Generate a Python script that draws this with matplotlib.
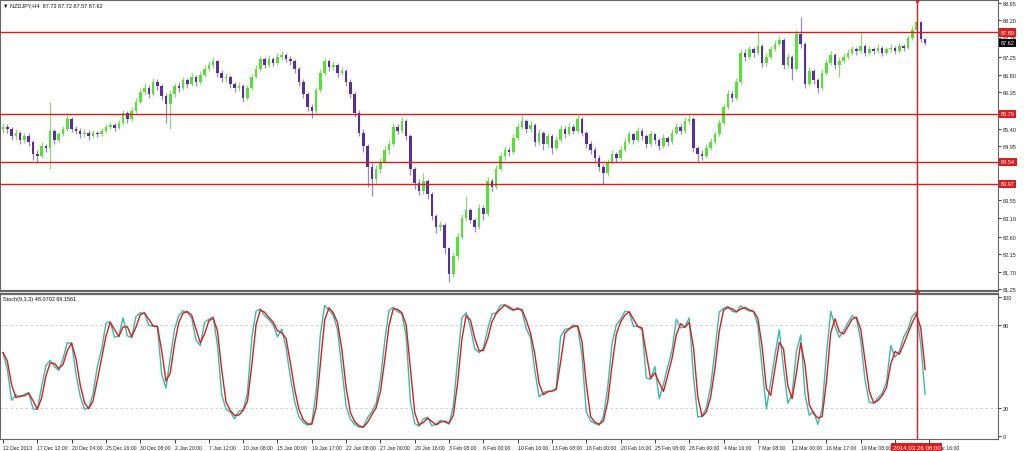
import numpy as np
import pandas as pd
import matplotlib
matplotlib.use("Agg")
import matplotlib.pyplot as plt
from matplotlib.transforms import blended_transform_factory

plt.rcParams["font.family"] = ["Liberation Sans", "DejaVu Sans"]

# NZDJPY candles (one entry per drawn bar)
first_open = 85.40
closes = [
    85.45, 85.38, 85.20, 85.28, 85.10, 85.22, 85.05, 84.75, 84.70, 84.95,
    84.90, 85.35, 85.10, 85.25, 85.40, 85.65, 85.40, 85.35, 85.25, 85.30,
    85.20, 85.30, 85.25, 85.35, 85.45, 85.50, 85.42, 85.55, 85.80, 85.65,
    85.85, 86.10, 86.35, 86.45, 86.30, 86.60, 86.50, 86.25, 86.05, 86.30,
    86.50, 86.45, 86.65, 86.55, 86.75, 86.60, 86.80, 86.95, 87.05, 87.15,
    86.85, 86.70, 86.75, 86.55, 86.45, 86.50, 86.20, 86.45, 86.75, 86.95,
    87.20, 87.05, 87.20, 87.10, 87.25, 87.30, 87.20, 87.15, 86.95, 86.60,
    86.30, 85.95, 85.85, 86.40, 86.85, 87.15, 87.00, 87.05, 86.85, 86.90,
    86.60, 86.30, 85.80, 85.30, 84.95, 84.40, 84.10, 84.35, 84.55, 84.85,
    85.00, 85.45, 85.35, 85.60, 85.20, 84.35, 84.00, 83.80, 84.05, 83.70,
    83.15, 82.85, 82.90, 82.30, 81.65, 82.10, 82.60, 83.10, 83.30, 83.05,
    82.85, 83.35, 83.20, 84.05, 83.90, 84.35, 84.70, 84.85, 84.80, 85.15,
    85.45, 85.60, 85.40, 85.50, 85.05, 85.30, 85.00, 85.20, 84.90, 85.10,
    85.40, 85.25, 85.45, 85.35, 85.65, 85.30, 85.00, 84.85, 84.65, 84.40,
    84.25, 84.55, 84.75, 84.65, 84.85, 85.05, 85.25, 85.10, 85.35, 85.20,
    85.00, 85.25, 85.10, 84.95, 85.15, 85.05, 85.30, 85.45, 85.35, 85.60,
    85.65, 84.90, 84.75, 84.70, 84.90, 85.05, 85.25, 85.55, 85.95, 86.30,
    86.20, 86.60, 87.35, 87.25, 87.45, 87.35, 87.55, 87.10, 87.25, 87.45,
    87.60, 87.70, 87.05, 87.25, 86.95, 87.85, 87.60, 86.55, 86.90, 86.65,
    86.45, 86.85, 87.10, 87.30, 87.05, 87.15, 87.25, 87.35, 87.45, 87.40,
    87.55, 87.35, 87.45, 87.40, 87.50, 87.35, 87.45, 87.50, 87.40, 87.55,
    87.50, 87.75, 87.95, 88.15, 87.72, 87.62,
]
highs = [
    85.55, 85.52, 85.45, 85.38, 85.35, 85.30, 85.28, 85.10, 84.85, 85.05,
    85.00, 86.10, 85.40, 85.32, 85.48, 85.80, 85.70, 85.48, 85.42, 85.38,
    85.36, 85.37, 85.35, 85.42, 85.52, 85.58, 85.55, 85.62, 85.88, 85.85,
    85.95, 86.20, 86.45, 86.58, 86.52, 86.72, 86.68, 86.55, 86.32, 86.40,
    86.58, 86.60, 86.75, 86.72, 86.85, 86.80, 86.90, 87.05, 87.15, 87.25,
    87.18, 86.92, 86.85, 86.80, 86.62, 86.60, 86.55, 86.52, 86.82, 87.05,
    87.28, 87.25, 87.30, 87.26, 87.35, 87.40, 87.36, 87.28, 87.20, 87.00,
    86.68, 86.35, 86.05, 86.48, 86.95, 87.22, 87.20, 87.15, 87.10, 87.00,
    86.95, 86.68, 86.35, 85.88, 85.38, 85.00, 84.50, 84.45, 84.65, 84.95,
    85.12, 85.55, 85.52, 85.70, 85.65, 85.25, 84.40, 84.10, 84.25, 84.10,
    83.75, 83.20, 83.00, 82.95, 82.35, 82.20, 82.70, 83.20, 83.65, 83.35,
    83.10, 83.45, 83.42, 84.15, 84.12, 84.45, 84.80, 84.95, 84.92, 85.25,
    85.55, 85.75, 85.65, 85.60, 85.55, 85.40, 85.35, 85.30, 85.25, 85.20,
    85.50, 85.48, 85.55, 85.52, 85.75, 85.70, 85.35, 85.08, 84.92, 84.72,
    84.48, 84.62, 84.85, 84.80, 84.95, 85.15, 85.35, 85.30, 85.45, 85.42,
    85.25, 85.35, 85.30, 85.15, 85.25, 85.20, 85.40, 85.55, 85.52, 85.70,
    85.78, 85.70, 84.95, 84.85, 85.00, 85.15, 85.35, 85.65, 86.05, 86.40,
    86.38, 86.72, 87.45, 87.45, 87.55, 87.52, 87.90, 87.60, 87.35, 87.55,
    87.70, 87.80, 87.75, 87.35, 87.30, 87.96, 88.30, 87.65, 87.00, 86.95,
    86.70, 86.95, 87.20, 87.40, 87.35, 87.25, 87.35, 87.45, 87.55, 87.52,
    87.90, 87.60, 87.55, 87.52, 87.58, 87.55, 87.52, 87.58, 87.55, 87.62,
    87.60, 87.82, 88.05, 88.22, 88.18, 87.72,
]
lows = [
    85.30, 85.28, 85.12, 85.10, 85.00, 85.02, 84.95, 84.60, 84.55, 84.65,
    84.80, 84.35, 85.00, 85.05, 85.20, 85.35, 85.32, 85.25, 85.15, 85.18,
    85.10, 85.15, 85.18, 85.20, 85.30, 85.38, 85.35, 85.38, 85.50, 85.55,
    85.60, 85.80, 86.05, 86.28, 86.20, 86.25, 86.40, 86.15, 85.55, 85.40,
    86.22, 86.35, 86.40, 86.45, 86.50, 86.50, 86.55, 86.75, 86.88, 86.98,
    86.75, 86.60, 86.62, 86.45, 86.35, 86.38, 86.10, 86.15, 86.40, 86.70,
    86.90, 86.98, 87.00, 87.02, 87.05, 87.18, 87.12, 87.05, 86.85, 86.50,
    86.20, 85.85, 85.68, 85.80, 86.35, 86.80, 86.90, 86.92, 86.75, 86.78,
    86.50, 86.20, 85.70, 85.20, 84.80, 83.90, 83.65, 84.00, 84.25, 84.50,
    84.75, 84.95, 85.25, 85.30, 85.10, 84.20, 83.85, 83.68, 83.72, 83.58,
    83.05, 82.70, 82.75, 82.15, 81.44, 81.55, 82.00, 82.55, 83.00, 82.95,
    82.72, 82.80, 83.05, 83.15, 83.80, 83.85, 84.30, 84.60, 84.70, 84.75,
    85.10, 85.40, 85.30, 85.32, 84.95, 84.98, 84.85, 84.92, 84.75, 84.85,
    85.05, 85.15, 85.20, 85.25, 85.30, 85.20, 84.90, 84.75, 84.55, 84.30,
    83.96, 84.18, 84.48, 84.55, 84.60, 84.80, 85.00, 85.00, 85.05, 85.10,
    84.90, 84.95, 85.00, 84.85, 84.90, 84.95, 85.00, 85.25, 85.25, 85.30,
    85.52, 84.80, 84.55, 84.60, 84.65, 84.85, 85.00, 85.20, 85.50, 85.90,
    86.10, 86.15, 86.55, 87.15, 87.20, 87.25, 87.30, 87.00, 87.02, 87.20,
    87.40, 87.55, 86.95, 86.98, 86.65, 86.90, 87.50, 86.45, 86.50, 86.55,
    86.33, 86.40, 86.80, 87.05, 86.95, 86.75, 87.10, 87.20, 87.30, 87.30,
    87.35, 87.28, 87.30, 87.32, 87.35, 87.28, 87.30, 87.38, 87.32, 87.35,
    87.42, 87.45, 87.70, 87.90, 87.65, 87.57,
]

# horizontal levels and labels
levels = [87.89, 85.79, 84.54, 83.97]
last_price = 87.62
price_ticks = [88.65, 88.20, 87.75, 87.25, 86.80, 86.35, 85.85, 85.40, 84.95,
               83.55, 83.10, 82.60, 82.15, 81.70, 81.25]
stoch_ticks = [0, 20, 80, 100]
date_labels = ["12 Dec 2013", "17 Dec 12:00", "20 Dec 04:00", "25 Dec 16:00",
               "30 Dec 08:00", "2 Jan 20:00", "7 Jan 12:00", "10 Jan 08:00",
               "15 Jan 00:00", "19 Jan 17:00", "22 Jan 08:00", "27 Jan 00:00",
               "29 Jan 16:00", "3 Feb 08:00", "6 Feb 00:00", "10 Feb 16:00",
               "13 Feb 08:00", "18 Feb 00:00", "20 Feb 16:00", "25 Feb 08:00",
               "28 Feb 00:00", "4 Mar 16:00", "7 Mar 08:00", "12 Mar 00:00",
               "16 Mar 17:00", "19 Mar 08:00", "24 Mar 00:00", "26 Mar 16:00"]
label_step = 8
marker_bar = 213
marker_text = "2014.03.26 08:00"

# stochastic (9,3,3 on H4 -> roughly 5,2,2 on the drawn bars)
k_len, slow_len, d_len = 5, 2, 2

df = pd.DataFrame({"close": closes, "high": highs, "low": lows})
df["open"] = [first_open] + closes[:-1]
hh = df["high"].rolling(k_len, min_periods=1).max()
ll = df["low"].rolling(k_len, min_periods=1).min()
num = (df["close"] - ll).rolling(slow_len, min_periods=1).sum()
den = (hh - ll).rolling(slow_len, min_periods=1).sum()
stoch_main = 100 * num / den
stoch_sig = stoch_main.rolling(d_len, min_periods=1).mean()

W, H = 1024, 452
fig = plt.figure(figsize=(W / 100, H / 100), dpi=100)
fig.patch.set_facecolor("white")

ax = fig.add_axes([0, 1 - 292 / H, 998 / W, 291 / H])
ax2 = fig.add_axes([0, 1 - 440 / H, 998 / W, 145 / H])

idx = np.arange(len(df))
bull = df["close"] >= df["open"]
body_lo = np.minimum(df["open"], df["close"])
body_h = np.maximum(np.abs(df["close"] - df["open"]), 0.012)

ax.vlines(idx[bull], df["low"][bull], df["high"][bull], color="#8ed87c", lw=0.9, zorder=2)
ax.vlines(idx[~bull], df["low"][~bull], df["high"][~bull], color="#9a88cc", lw=0.9, zorder=2)
ax.bar(idx[bull], body_h[bull], bottom=body_lo[bull], width=0.6, color="#55e232", lw=0, zorder=3)
ax.bar(idx[~bull], body_h[~bull], bottom=body_lo[~bull], width=0.6, color="#5a2ea0", lw=0, zorder=3)

xmin, xmax = -0.7, 232.0
ax.set_xlim(xmin, xmax)
ax.set_ylim(81.2, 88.73)

red = "#d81e1e"
for lv in levels:
    ax.axhline(lv, color=red, lw=1.0, zorder=4)

# stochastic pane
ax2.plot(idx, stoch_main, color="#35bdb2", lw=1.0, zorder=3)
ax2.plot(idx, stoch_sig, color=red, lw=1.0, zorder=4)
for lv in (20, 80):
    ax2.axhline(lv, color="#c8c8c8", lw=0.6, ls=(0, (3, 3)), zorder=1)
ax2.set_xlim(xmin, xmax)
ax2.set_ylim(-2.2, 102.2)

for a in (ax, ax2):
    a.yaxis.tick_right()
    a.tick_params(axis="y", labelsize=4, length=2, pad=1.5, width=0.6, colors="#222222")
    for s in a.spines.values():
        s.set_color("#666666")
        s.set_linewidth(0.8)
ax.spines["bottom"].set_linewidth(1.6)
ax2.spines["top"].set_linewidth(1.6)

ax.set_yticks(price_ticks)
ax.set_yticklabels([f"{t:.2f}" for t in price_ticks])
ax.set_xticks([])
ax2.set_yticks(stoch_ticks)
ax2.set_yticklabels([str(t) for t in stoch_ticks])

tick_pos = [i * label_step for i in range(len(date_labels))]
ax2.set_xticks(tick_pos)
ax2.set_xticklabels(date_labels)
ax2.tick_params(axis="x", labelsize=3.7, length=3, pad=1.2, width=0.6, colors="#222222")
for lab in ax2.get_xticklabels():
    lab.set_ha("left")

# right-side price boxes
tr = blended_transform_factory(ax.transAxes, ax.transData)
for lv in levels:
    ax.text(1.003, lv, f"{lv:.2f}", transform=tr, ha="left", va="center", fontsize=4,
            color="white", bbox=dict(fc=red, ec="none", pad=1.1), zorder=10, clip_on=False)
ax.text(1.003, last_price, f"{last_price:.2f}", transform=tr, ha="left", va="center",
        fontsize=4, color="white", bbox=dict(fc="black", ec="none", pad=1.1), zorder=10,
        clip_on=False)

# time marker line through both panes
ax.axvline(marker_bar, color=red, lw=1.0, zorder=5)
ax2.axvline(marker_bar, color=red, lw=1.0, zorder=5)
ax.plot([marker_bar], [88.73], marker="v", color=red, ms=3.5, clip_on=False, zorder=6)
ax.plot([marker_bar], [81.2], marker="^", color=red, ms=3, clip_on=False, zorder=6)
trx = blended_transform_factory(ax2.transData, ax2.transAxes)
ax2.text(marker_bar, -0.04, marker_text, transform=trx, ha="center", va="top", fontsize=4.4,
         color="white", bbox=dict(fc=red, ec="none", pad=1.0), zorder=10, clip_on=False)

# header texts
fig.text(3 / W, 1 - 6 / H, "\u25bc NZDJPY,H4  87.72 87.72 87.57 87.62", fontsize=4,
         va="center", ha="left", color="#111111")
fig.text(3 / W, 1 - 300 / H, "Stoch(9,3,3) 48.0702 69.1561", fontsize=4,
         va="center", ha="left", color="#111111")

fig.savefig("out.png", dpi=100, facecolor="white")
